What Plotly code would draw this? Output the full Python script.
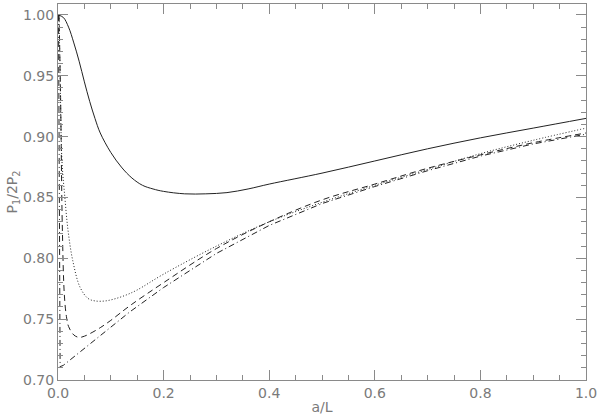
import plotly.graph_objects as go

# Solid curve
x_solid = [0.0, 0.01, 0.02, 0.03, 0.04, 0.05, 0.06, 0.07, 0.08, 0.10, 0.12, 0.14, 0.16, 0.18, 0.20,
           0.24, 0.28, 0.32, 0.36, 0.40, 0.50, 0.60, 0.70, 0.80, 0.90, 1.00]
y_solid = [1.000, 0.998, 0.990, 0.977, 0.962, 0.945, 0.929, 0.915, 0.903, 0.887, 0.875, 0.866, 0.860,
           0.857, 0.855, 0.853, 0.853, 0.854, 0.857, 0.861, 0.870, 0.880, 0.890, 0.899, 0.907, 0.915]

# Dotted curve
x_dot = [0.002, 0.004, 0.0075, 0.013, 0.019, 0.028, 0.042, 0.057, 0.07, 0.09, 0.11, 0.13, 0.15,
         0.20, 0.30, 0.40, 0.50, 0.60, 0.70, 0.80, 0.90, 1.00]
y_dot = [1.000, 0.950, 0.880, 0.850, 0.823, 0.798, 0.776, 0.767, 0.765, 0.765, 0.767, 0.770, 0.774,
         0.787, 0.810, 0.830, 0.846, 0.860, 0.873, 0.886, 0.897, 0.907]

# Dashed curve
x_dash = [0.002, 0.005, 0.008, 0.012, 0.016, 0.02, 0.03, 0.04, 0.05, 0.06, 0.08, 0.10, 0.136, 0.20,
          0.30, 0.40, 0.50, 0.60, 0.70, 0.80, 0.90, 1.00]
y_dash = [1.000, 0.930, 0.830, 0.770, 0.752, 0.744, 0.737, 0.735, 0.736, 0.738, 0.743, 0.749, 0.761, 0.780,
          0.808, 0.830, 0.848, 0.861, 0.874, 0.885, 0.895, 0.903]

# Dash-dot curve
x_dd = [0.001, 0.002, 0.003, 0.004, 0.01, 0.05, 0.10, 0.136, 0.20, 0.30, 0.40, 0.50, 0.60, 0.70,
        0.80, 0.90, 1.00]
y_dd = [1.000, 0.900, 0.780, 0.711, 0.712, 0.726, 0.743, 0.756, 0.776, 0.804, 0.827, 0.845, 0.859, 0.872,
        0.884, 0.894, 0.902]

x_ticks = [0.0, 0.2, 0.4, 0.6, 0.8, 1.0]
x_labels = ["0.0", "0.2", "0.4", "0.6", "0.8", "1.0"]
y_ticks = [0.70, 0.75, 0.80, 0.85, 0.90, 0.95, 1.00]
y_labels = ["0.70", "0.75", "0.80", "0.85", "0.90", "0.95", "1.00"]

line_col = "#222222"
axis_col = "#8a8a8a"
text_col = "#7a7a7a"

fig = go.Figure()
fig.add_trace(go.Scatter(x=x_solid, y=y_solid, mode="lines", line=dict(color=line_col, width=1, shape="spline"), showlegend=False))
fig.add_trace(go.Scatter(x=x_dot, y=y_dot, mode="lines", line=dict(color=line_col, width=1, dash="1px,2px", shape="spline"), showlegend=False))
fig.add_trace(go.Scatter(x=x_dash, y=y_dash, mode="lines", line=dict(color=line_col, width=1, dash="6px,4px", shape="spline"), showlegend=False))
fig.add_trace(go.Scatter(x=x_dd, y=y_dd, mode="lines", line=dict(color=line_col, width=1, dash="6px,3px,1px,3px"), showlegend=False))

font = dict(family="DejaVu Sans", size=14, color=text_col)

fig.update_layout(
    width=600, height=420,
    margin=dict(l=58, r=12, t=3, b=40),
    paper_bgcolor="white", plot_bgcolor="white",
    font=font,
)
fig.update_xaxes(
    range=[0, 1.0], tickvals=x_ticks, ticktext=x_labels,
    showline=True, linecolor=axis_col, linewidth=1, mirror="ticks",
    ticks="inside", ticklen=10, tickcolor=axis_col, showgrid=False, zeroline=False,
    minor=dict(ticks="inside", dtick=0.05, ticklen=5, tickcolor=axis_col, showgrid=False),
    title=dict(text="a/L", font=font, standoff=2),
)
fig.update_yaxes(
    range=[0.70, 1.009], tickvals=y_ticks, ticktext=y_labels,
    showline=True, linecolor=axis_col, linewidth=1, mirror="ticks",
    ticks="inside", ticklen=10, tickcolor=axis_col, showgrid=False, zeroline=False,
    minor=dict(ticks="inside", dtick=0.01, ticklen=5, tickcolor=axis_col, showgrid=False),
    title=dict(text="P<sub>1</sub>/2P<sub>2</sub>", font=font, standoff=2),
)

fig.write_html("out.html", config={"displayModeBar": False},
               post_script="document.body.style.margin='0';document.body.style.overflow='hidden';")
